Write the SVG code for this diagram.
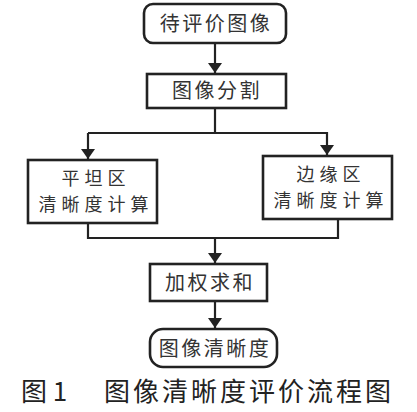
<svg xmlns="http://www.w3.org/2000/svg" width="417" height="412" viewBox="0 0 417 412">
<style>
.box{fill:#fff;stroke:#222;stroke-width:2.6}
.ln{fill:none;stroke:#222;stroke-width:2.2}
.t{font-family:"Noto Sans CJK SC",sans-serif;font-size:20px;fill:#333;text-anchor:middle;letter-spacing:2.5px}
.t2{font-family:"Noto Sans CJK SC",sans-serif;font-size:18px;fill:#333;text-anchor:middle;letter-spacing:5px}
.cap{font-family:"Noto Sans CJK SC",sans-serif;font-size:26px;fill:#222}
</style>
<defs>
<marker id="ah" viewBox="0 0 10 14" refX="10" refY="7" markerWidth="10" markerHeight="14" markerUnits="userSpaceOnUse" orient="auto">
<path d="M0,0 L10,7 L0,14 Z" fill="#222"/>
</marker>
</defs>
<g id="connectors">
<line class="ln" x1="215" y1="43" x2="215" y2="73" marker-end="url(#ah)"/>
<polyline class="ln" points="215,108 215,133"/>
<polyline class="ln" points="88,133 327,133 327,155" marker-end="url(#ah)"/>
<line class="ln" x1="88" y1="133" x2="88" y2="159" marker-end="url(#ah)"/>
<polyline class="ln" points="88,223 88,238 338,238 338,219"/>
<line class="ln" x1="215" y1="238" x2="215" y2="263" marker-end="url(#ah)"/>
<line class="ln" x1="215" y1="301" x2="215" y2="328" marker-end="url(#ah)"/>
</g>
<g id="n1">
<rect class="box" x="144" y="4" width="142" height="39" rx="9"/>
<text class="t" x="216" y="31">待评价图像</text>
</g>
<g id="n2">
<rect class="box" x="147" y="74" width="139" height="34"/>
<text class="t" x="217" y="98">图像分割</text>
</g>
<g id="n3">
<rect class="box" x="28" y="160" width="129" height="63"/>
<text class="t2" x="96" y="185">平坦区</text>
<text class="t2" x="96" y="211">清晰度计算</text>
</g>
<g id="n4">
<rect class="box" x="263" y="156" width="129" height="63"/>
<text class="t2" x="331" y="181">边缘区</text>
<text class="t2" x="331" y="207">清晰度计算</text>
</g>
<g id="n5">
<rect class="box" x="150" y="264" width="117" height="37"/>
<text class="t" x="210" y="290">加权求和</text>
</g>
<g id="n6">
<rect class="box" x="150" y="329" width="127" height="38" rx="13"/>
<text class="t" x="215" y="356">图像清晰度</text>
</g>
<text class="cap" x="21" y="401">图 1</text>
<text class="cap" x="104" y="401" letter-spacing="3">图像清晰度评价流程图</text>
</svg>
